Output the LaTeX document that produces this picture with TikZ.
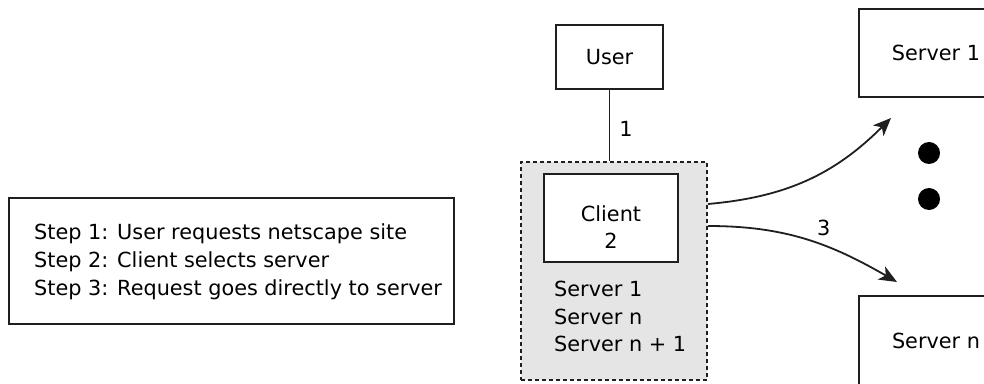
\documentclass[tikz,border=0pt]{standalone}
\usepackage{fontspec}
\setmainfont{DejaVu Sans}
\usetikzlibrary{positioning, calc, arrows.meta}

\tikzset{
    box/.style={draw, line width=1.8pt, fill=white},
    grp/.style={draw, line width=1.8pt, dash pattern=on 4pt off 3pt, fill=gray!20},
    flow/.style={line width=1.8pt, -{Stealth[length=18pt,width=15pt,inset=5pt]}},
    txt/.style={align=left, inner sep=0pt},
    bigdot/.style={circle, fill, inner sep=0pt, minimum size=22pt}
}

\begin{document}
\begin{tikzpicture}[x=1pt, y=1pt, font=\fontsize{20.8}{27.8}\selectfont, draw=black!88]
                \clip (0,0) rectangle (984,383);

                \node[box, minimum width=445pt, minimum height=126pt] (steps) at (231.5,122) {};
                \node[txt, anchor=west] (steptext) at (34,121) {Step 1: User requests netscape site\\Step 2: Client selects server\\Step 3: Request goes directly to server};

                \node[box, minimum width=107pt, minimum height=64pt] (user) at (609.5,326) {User};

                \node[grp, minimum width=186pt, minimum height=218pt] (group) at (614,112) {};
                \node[box, minimum width=134pt, minimum height=88pt] (client) at (611,165) {};
                \node[align=center, inner sep=0pt] (clientlbl) at ([yshift=-9pt]client.center) {Client\\2};
                \node[txt, anchor=west] (list) at (554,66.5) {Server 1\\Server n\\Server n + 1};

                \draw[line width=1.8pt] (user) -- node[right=9pt, pos=0.55, inner sep=0pt] {1} (user |- group.north);

                \node[box, minimum width=154pt, minimum height=88pt] (srv1) at (936,330) {Server 1};
                \node[box, minimum width=154pt, minimum height=90pt] (srvn) at (936,42) {Server n};

                \node[bigdot] (dot1) at (929,230) {};
                \node[bigdot] (dot2) at (929,184) {};

                \coordinate (up) at (891,265);
                \coordinate (down) at (897,101);

                \draw[flow] ([yshift=67pt]group.east) to[out=5, in=225] (up);
                \draw[flow] ([yshift=45pt]group.east) to[out=0, in=150] node[above=6pt, pos=0.6] {3} (down);
            \end{tikzpicture}
\end{document}
